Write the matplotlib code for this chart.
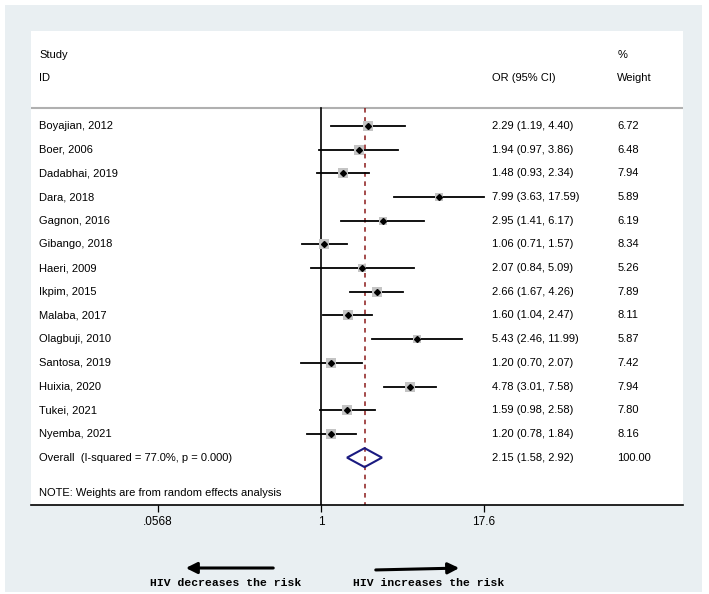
import matplotlib
matplotlib.use('Agg')
import matplotlib.pyplot as plt
from matplotlib.patches import Rectangle, Polygon, FancyArrowPatch

plt.rcParams['font.family'] = ['Liberation Sans', 'DejaVu Sans']

# 研究数据
studies = ['Boyajian, 2012', 'Boer, 2006', 'Dadabhai, 2019', 'Dara, 2018',
           'Gagnon, 2016', 'Gibango, 2018', 'Haeri, 2009', 'Ikpim, 2015',
           'Malaba, 2017', 'Olagbuji, 2010', 'Santosa, 2019', 'Huixia, 2020',
           'Tukei, 2021', 'Nyemba, 2021']
or_vals = [2.29, 1.94, 1.48, 7.99, 2.95, 1.06, 2.07, 2.66, 1.60, 5.43, 1.20, 4.78, 1.59, 1.20]
ci_low = [1.19, 0.97, 0.93, 3.63, 1.41, 0.71, 0.84, 1.67, 1.04, 2.46, 0.70, 3.01, 0.98, 0.78]
ci_high = [4.40, 3.86, 2.34, 17.59, 6.17, 1.57, 5.09, 4.26, 2.47, 11.99, 2.07, 7.58, 2.58, 1.84]
weights = [6.72, 6.48, 7.94, 5.89, 6.19, 8.34, 5.26, 7.89, 8.11, 5.87, 7.42, 7.94, 7.80, 8.16]

overall_label = 'Overall  (I-squared = 77.0%, p = 0.000)'
overall = [2.15, 1.58, 2.92]
overall_weight = '100.00'
tick_vals = [0.0568, 1, 17.6]
tick_labels = ['.0568', '1', '17.6']

fig = plt.figure(figsize=(7.09, 5.94), dpi=100, facecolor='white')
# 外层浅色背景
fig.patches.append(Rectangle((5 / 709, 2 / 594), 697 / 709, 587 / 594,
                             transform=fig.transFigure, facecolor='#e9eff2',
                             edgecolor='none', zorder=-10))

ax = fig.add_axes([31 / 709, 89 / 594, 652 / 709, 474 / 594])
ax.set_facecolor('white')
ax.set_xscale('log')
ax.set_xlim(0.00608, 583)
ax.set_ylim(16.0, -4.01)

tr = ax.get_yaxis_transform()  # x: axes fraction, y: data
x_study, x_or, x_w = 0.0123, 0.707, 0.899
fs = 8

# 表头
ax.text(x_study, -3.0, 'Study', transform=tr, va='center', fontsize=fs)
ax.text(x_study, -2.03, 'ID', transform=tr, va='center', fontsize=fs)
ax.text(x_or, -2.03, 'OR (95% CI)', transform=tr, va='center', fontsize=fs)
ax.text(x_w, -3.0, '%', transform=tr, va='center', fontsize=fs)
ax.text(x_w, -2.03, 'Weight', transform=tr, va='center', fontsize=fs)
ax.axhline(-0.76, color='#b0b0b0', lw=1.5)

# 参考线
ax.plot([1, 1], [-0.76, 16.0], color='black', lw=1.2, zorder=2)
ax.plot([overall[0], overall[0]], [-0.76, 16.0], color='#8b1a1a', lw=1.1,
        ls=(0, (3, 3)), zorder=2)

# 各研究
for i, name in enumerate(studies):
    ax.plot([ci_low[i], ci_high[i]], [i, i], color='black', lw=1.3, zorder=3)
    ax.scatter([or_vals[i]], [i], marker='s', s=6.5 * weights[i],
               color='#c4c4c4', zorder=3, linewidths=0)
    ax.plot([or_vals[i]], [i], marker='D', markersize=3.0, color='black', zorder=4)
    ax.text(x_study, i, name, transform=tr, va='center', fontsize=fs)
    ax.text(x_or, i, '%.2f (%.2f, %.2f)' % (or_vals[i], ci_low[i], ci_high[i]),
            transform=tr, va='center', fontsize=fs)
    ax.text(x_w, i, '%.2f' % weights[i], transform=tr, va='center', fontsize=fs)

# 合并效应菱形
yo = len(studies)
diamond = Polygon([[overall[1], yo], [overall[0], yo - 0.4], [overall[2], yo],
                   [overall[0], yo + 0.4]], closed=True, fill=False,
                  edgecolor='#1a1a80', lw=1.5, zorder=4)
ax.add_patch(diamond)
ax.text(x_study, yo, overall_label, transform=tr, va='center', fontsize=fs)
ax.text(x_or, yo, '%.2f (%.2f, %.2f)' % tuple(overall), transform=tr,
        va='center', fontsize=fs)
ax.text(x_w, yo, overall_weight, transform=tr, va='center', fontsize=fs)
ax.text(x_study, 15.49, 'NOTE: Weights are from random effects analysis',
        transform=tr, va='center', fontsize=fs)

# 坐标轴
for s in ['top', 'left', 'right']:
    ax.spines[s].set_visible(False)
ax.spines['bottom'].set_linewidth(1.2)
ax.set_yticks([])
ax.set_xticks(tick_vals)
ax.set_xticklabels(tick_labels, fontsize=8.5)
ax.minorticks_off()
ax.tick_params(axis='x', direction='out', length=5, width=0.9, pad=3)

# 底部箭头说明
fig.patches.append(FancyArrowPatch(
    (276 / 709, 1 - 568 / 594), (183 / 709, 1 - 568 / 594),
    transform=fig.transFigure, arrowstyle='-|>,head_length=0.6,head_width=0.3',
    mutation_scale=11, lw=2.2, color='black'))
fig.patches.append(FancyArrowPatch(
    (373 / 709, 1 - 570 / 594), (462 / 709, 1 - 568 / 594),
    transform=fig.transFigure, arrowstyle='-|>,head_length=0.6,head_width=0.3',
    mutation_scale=11, lw=2.2, color='black'))
fig.text(226 / 709, 1 - 583 / 594, 'HIV decreases the risk', ha='center',
         va='center', family='Liberation Mono', weight='bold', fontsize=8.2)
fig.text(429 / 709, 1 - 583 / 594, 'HIV increases the risk', ha='center',
         va='center', family='Liberation Mono', weight='bold', fontsize=8.2)

fig.savefig('out.png', dpi=100)
